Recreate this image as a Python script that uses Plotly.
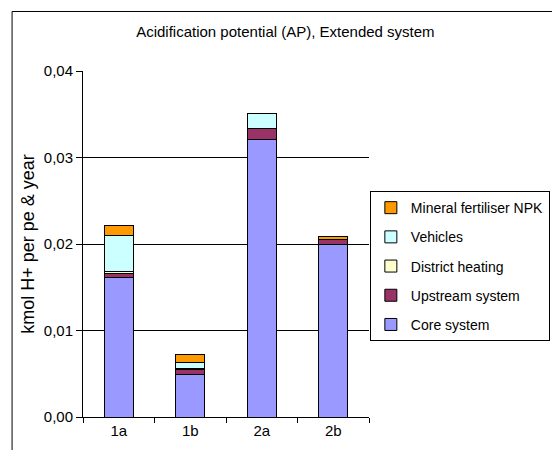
import plotly.graph_objects as go

# scenarios on the x axis
scenarios = ["1a", "1b", "2a", "2b"]

# contributions, kmol H+ per pe & year
core_system = [0.0161, 0.0049, 0.0321, 0.0200]
upstream_system = [0.00048, 0.00058, 0.0013, 0.0005]
district_heating = [0.00026, 0.0001, 0.0, 0.0]
vehicles = [0.0042, 0.0007, 0.0017, 0.0]
mineral_npk = [0.0011, 0.0010, 0.0, 0.0004]

y_ticks = [0.0, 0.01, 0.02, 0.03, 0.04]

series = [
    ("Core system", core_system, "#9999FF"),
    ("Upstream system", upstream_system, "#993366"),
    ("District heating", district_heating, "#FFFFCC"),
    ("Vehicles", vehicles, "#CCFFFF"),
    ("Mineral fertiliser NPK", mineral_npk, "#FF9900"),
]

font = "Liberation Sans, Arial, sans-serif"

fig = go.Figure()
for i, (name, vals, col) in enumerate(series):
    fig.add_trace(go.Bar(
        x=scenarios, y=vals, name=name,
        marker=dict(color=col, line=dict(color="black", width=1)),
        legendgroup=str(i),
        legendrank=len(series) - i,  # top of stack first in legend
    ))

fig.update_layout(
    width=552, height=450,
    margin=dict(l=83, r=183, t=71, b=33, autoexpand=False),
    barmode="stack", bargap=0.59,
    separators=",.",
    plot_bgcolor="white", paper_bgcolor="white",
    font=dict(family=font, size=15, color="black"),
    title=dict(text="Acidification potential (AP), Extended system",
               x=0.517, xanchor="center", y=0.929, yanchor="middle",
               font=dict(size=15)),
    legend=dict(
        x=1.003, y=0.653, xanchor="left", yanchor="top",
        traceorder="grouped", tracegroupgap=8,
        bordercolor="black", borderwidth=1, bgcolor="white",
        font=dict(size=14), itemwidth=30,
    ),
    xaxis=dict(
        showline=True, linecolor="black", linewidth=1,
        ticks="outside", tickson="boundaries", ticklen=5, tickcolor="black",
        showgrid=False, automargin=False,
    ),
    yaxis=dict(
        range=[0, 0.04], tickvals=y_ticks, tickformat=".2f",
        showline=True, linecolor="black", linewidth=1,
        ticks="outside", ticklen=6, tickcolor="black",
        showgrid=True, gridcolor="black", gridwidth=1,
        title=dict(text="kmol H+ per pe & year", standoff=4),
        zeroline=False, automargin=False,
    ),
    shapes=[
        # outer chart frame (left and top edges)
        dict(type="line", xref="paper", yref="paper",
             x0=-0.248, x1=-0.248, y0=-0.2, y1=1.172,
             line=dict(color="black", width=1)),
        dict(type="line", xref="paper", yref="paper",
             x0=-0.248, x1=1.7, y0=1.172, y1=1.172,
             line=dict(color="black", width=1)),
    ],
)

# drop the default page margin so the figure fills the window exactly
fig.write_html("out.html",
               config={"displayModeBar": False},
               post_script="document.body.style.margin='0';")
